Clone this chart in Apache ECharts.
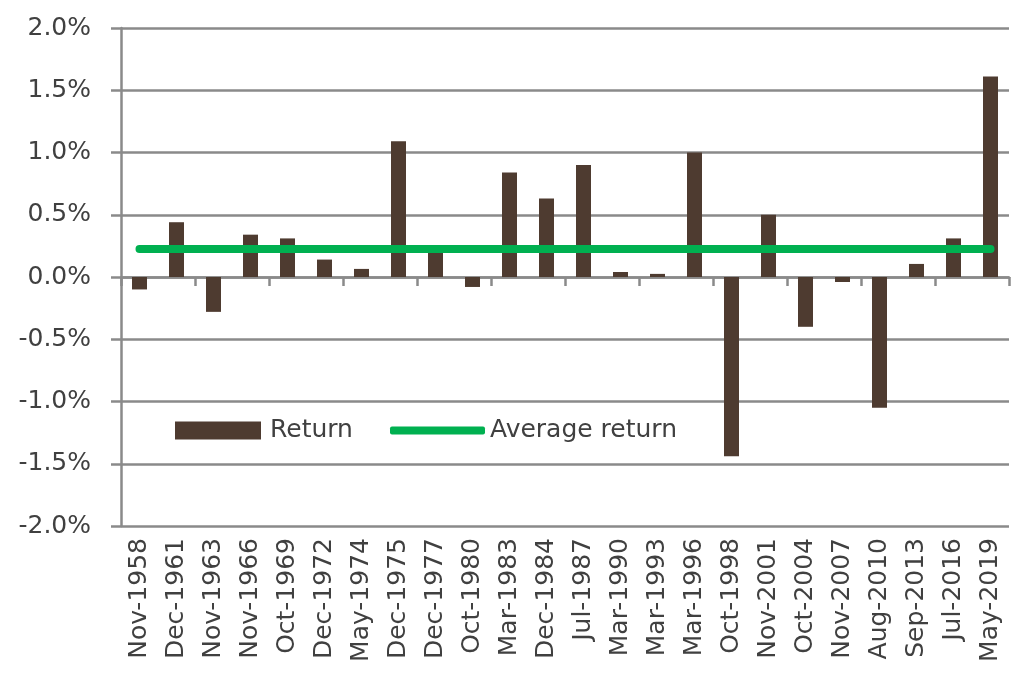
<!DOCTYPE html>
<html>
<head>
<meta charset="utf-8">
<script src="https://cdn.jsdelivr.net/npm/echarts@6/dist/echarts.min.js"></script>
<style>
  html, body { margin: 0; padding: 0; background: #ffffff; }
  #chart { width: 1011px; height: 677px; }
</style>
</head>
<body>
<div id="chart"></div>
<script>
const categories = [
  'Nov-1958', 'Dec-1961', 'Nov-1963', 'Nov-1966', 'Oct-1969', 'Dec-1972',
  'May-1974', 'Dec-1975', 'Dec-1977', 'Oct-1980', 'Mar-1983', 'Dec-1984',
  'Jul-1987', 'Mar-1990', 'Mar-1993', 'Mar-1996', 'Oct-1998', 'Nov-2001',
  'Oct-2004', 'Nov-2007', 'Aug-2010', 'Sep-2013', 'Jul-2016', 'May-2019'
];
// monthly return in %
const returns = [
  -0.10, 0.44, -0.28, 0.34, 0.31, 0.14,
  0.065, 1.09, 0.20, -0.08, 0.84, 0.63,
  0.90, 0.04, 0.025, 1.00, -1.44, 0.50,
  -0.40, -0.04, -1.05, 0.105, 0.31, 1.61
];
const avgReturn = 0.225;
const avgLine = categories.map(() => avgReturn);

const FONT = 'DejaVu Sans';
const TEXT = '#404040';
const GRID_GREY = '#8a8a8a';

const chart = echarts.init(document.getElementById('chart'), null, { renderer: 'canvas' });

chart.setOption({
  animation: false,
  backgroundColor: '#ffffff',
  grid: { left: 121, right: 2, top: 28, bottom: 151 },
  legend: [
    {
      data: [{ name: 'Return', icon: 'rect' }],
      left: 170, top: 413,
      itemWidth: 86, itemHeight: 18,
      textStyle: { fontFamily: FONT, fontSize: 25, color: TEXT, padding: [0, 0, 0, 4] }
    },
    {
      data: [{ name: 'Average return', icon: 'roundRect' }],
      left: 385, top: 413,
      itemWidth: 95, itemHeight: 8,
      itemStyle: { color: '#00b050' },
      textStyle: { fontFamily: FONT, fontSize: 25, color: TEXT, padding: [0, 0, 0, 0] }
    }
  ],
  xAxis: [
    {
      type: 'category',
      data: categories,
      position: 'bottom',
      axisLine: { show: false, onZero: false },
      axisTick: { show: false },
      axisLabel: {
        rotate: 90, margin: 12, interval: 0,
        fontFamily: FONT, fontSize: 25, color: TEXT
      },
      splitLine: { show: false }
    },
    {
      type: 'category',
      data: categories,
      position: 'bottom',
      axisLine: { show: true, onZero: true, lineStyle: { color: GRID_GREY, width: 2.5 } },
      axisTick: { show: true, length: 9, inside: false, lineStyle: { color: GRID_GREY, width: 2.5 } },
      axisLabel: { show: false },
      splitLine: { show: false }
    }
  ],
  yAxis: {
    type: 'value',
    min: -2, max: 2, interval: 0.5,
    axisLine: { show: true, lineStyle: { color: GRID_GREY, width: 2.5 } },
    axisTick: { show: true, length: 10, lineStyle: { color: GRID_GREY, width: 2.5 } },
    axisLabel: {
      margin: 30,
      fontFamily: FONT, fontSize: 25, color: TEXT,
      formatter: (v) => v.toFixed(1) + '%'
    },
    splitLine: { show: true, lineStyle: { color: GRID_GREY, width: 2.5 } }
  },
  series: [
    {
      name: 'Return',
      type: 'bar',
      xAxisIndex: 0,
      data: returns,
      barWidth: 15,
      itemStyle: { color: '#4e3b30' },
      z: 3
    },
    {
      name: 'Average return',
      type: 'line',
      xAxisIndex: 0,
      data: avgLine,
      symbol: 'none',
      lineStyle: { color: '#00b050', width: 8, cap: 'round' },
      itemStyle: { color: '#00b050' },
      z: 4
    }
  ]
});
</script>
</body>
</html>
